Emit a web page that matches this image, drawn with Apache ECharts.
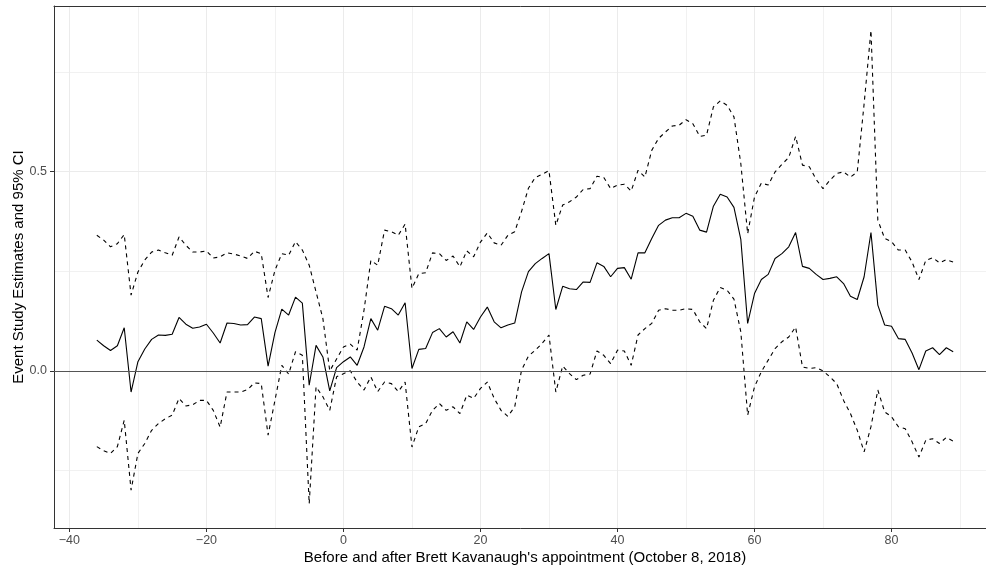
<!DOCTYPE html>
<html>
<head>
<meta charset="utf-8">
<script src="https://cdn.jsdelivr.net/npm/echarts@6/dist/echarts.min.js"></script>
<style>
html, body { margin: 0; padding: 0; background: #fff; }
#chart { width: 986px; height: 569px; }
</style>
</head>
<body>
<div id="chart"></div>
<script>
// days relative to the appointment
var days = [
	-36,-35,-34,-33,-32,-31,-30,-29,-28,-27,
	-26,-25,-24,-23,-22,-21,-20,-19,-18,-17,
	-16,-15,-14,-13,-12,-11,-10,-9,-8,-7,
	-6,-5,-4,-3,-2,-1,0,1,2,3,
	4,5,6,7,8,9,10,11,12,13,
	14,15,16,17,18,19,20,21,22,23,
	24,25,26,27,28,29,30,31,32,33,
	34,35,36,37,38,39,40,41,42,43,
	44,45,46,47,48,49,50,51,52,53,
	54,55,56,57,58,59,60,61,62,63,
	64,65,66,67,68,69,70,71,72,73,
	74,75,76,77,78,79,80,81,82,83,
	84,85,86,87,88,89
];
// point estimates
var estimate = [
	0.077,0.063,0.051,0.063,0.108,-0.053,0.023,0.055,0.079,0.090,
	0.089,0.092,0.134,0.117,0.107,0.110,0.117,0.095,0.070,0.120,
	0.119,0.115,0.116,0.135,0.131,0.012,0.096,0.155,0.140,0.185,
	0.170,-0.036,0.064,0.035,-0.050,0.008,0.023,0.035,0.014,0.060,
	0.131,0.102,0.162,0.156,0.140,0.171,0.006,0.054,0.056,0.096,
	0.106,0.085,0.098,0.070,0.123,0.104,0.135,0.160,0.123,0.108,
	0.115,0.120,0.198,0.249,0.269,0.282,0.294,0.154,0.212,0.206,
	0.204,0.223,0.222,0.271,0.262,0.236,0.257,0.259,0.230,0.296,
	0.296,0.332,0.365,0.378,0.384,0.384,0.395,0.388,0.353,0.348,
	0.413,0.443,0.436,0.410,0.330,0.119,0.194,0.229,0.242,0.282,
	0.294,0.311,0.347,0.262,0.257,0.242,0.229,0.232,0.236,0.219,
	0.187,0.179,0.236,0.347,0.165,0.115,0.112,0.081,0.079,0.045,
	0.003,0.050,0.058,0.041,0.058,0.048
];
// 95% CI upper bound
var upperCI = [
	0.340,0.328,0.311,0.319,0.342,0.190,0.248,0.278,0.298,0.303,
	0.296,0.290,0.336,0.315,0.298,0.298,0.301,0.283,0.286,0.296,
	0.293,0.288,0.282,0.300,0.294,0.184,0.252,0.294,0.290,0.324,
	0.303,0.265,0.198,0.131,0.000,0.030,0.060,0.067,0.052,0.152,
	0.277,0.265,0.353,0.349,0.340,0.368,0.207,0.244,0.246,0.296,
	0.294,0.277,0.288,0.261,0.301,0.286,0.323,0.346,0.321,0.315,
	0.340,0.349,0.400,0.458,0.485,0.493,0.502,0.365,0.416,0.424,
	0.436,0.455,0.457,0.488,0.485,0.457,0.466,0.468,0.451,0.503,
	0.486,0.553,0.583,0.599,0.614,0.616,0.630,0.620,0.588,0.591,
	0.662,0.677,0.666,0.637,0.520,0.344,0.436,0.471,0.466,0.499,
	0.518,0.535,0.588,0.516,0.512,0.480,0.457,0.478,0.495,0.499,
	0.486,0.499,0.670,0.854,0.378,0.332,0.324,0.303,0.303,0.273,
	0.229,0.277,0.284,0.271,0.279,0.273
];
// 95% CI lower bound
var lowerCI = [
	-0.190,-0.200,-0.207,-0.190,-0.124,-0.299,-0.207,-0.182,-0.149,-0.132,
	-0.120,-0.111,-0.069,-0.088,-0.085,-0.074,-0.074,-0.099,-0.141,-0.053,
	-0.053,-0.053,-0.047,-0.030,-0.032,-0.161,-0.074,0.014,-0.008,0.048,
	0.039,-0.333,-0.040,-0.065,-0.099,-0.015,-0.007,0.000,-0.028,-0.048,
	-0.015,-0.052,-0.028,-0.032,-0.052,-0.028,-0.191,-0.140,-0.132,-0.099,
	-0.082,-0.099,-0.090,-0.107,-0.061,-0.069,-0.044,-0.028,-0.069,-0.099,
	-0.114,-0.090,0.002,0.037,0.052,0.069,0.090,-0.053,0.012,-0.007,
	-0.022,-0.011,-0.008,0.050,0.039,0.018,0.052,0.050,0.014,0.090,
	0.106,0.119,0.152,0.156,0.152,0.152,0.156,0.154,0.123,0.106,
	0.177,0.209,0.202,0.180,0.098,-0.111,-0.040,-0.002,0.027,0.056,
	0.073,0.085,0.110,0.010,0.006,0.008,0.000,-0.015,-0.032,-0.074,
	-0.107,-0.149,-0.203,-0.140,-0.048,-0.103,-0.115,-0.140,-0.145,-0.178,
	-0.216,-0.174,-0.170,-0.182,-0.167,-0.176
];
// tick labels / grid breaks
var xMajorTicks = [-40, -20, 0, 20, 40, 60, 80];
var xMinorGrid = [-30, -10, 10, 30, 50, 70, 90];
var yMajorTicks = [0, 0.5];
var yMinorGrid = [-0.25, 0.25, 0.75];

var FONT = 'Liberation Sans, Arial, sans-serif';
var X_MIN = -42.25, X_MAX = 95.25;
var Y_MIN = -0.394, Y_MAX = 0.915;
var BORDER = { show: true, onZero: false, lineStyle: { color: '#333', width: 1 } };

function pairs(vals) {
	var out = [];
	days.forEach(function(d, i) {
		out.push([d, vals[i]]);
	});
	return out;
}

function minusSign(v) {
	return String(v).replace('-', '\u2212');
}

var option = {
	animation: false,
	backgroundColor: '#fff',
	grid: {
		left: 54,
		top: 6,
		right: -10,
		bottom: 41,
		outerBoundsMode: 'none',
		containLabel: false,
		show: false
	},
	xAxis: [{
		type: 'value',
		min: X_MIN,
		max: X_MAX,
		position: 'bottom',
		axisLine: BORDER,
		axisTick: {
			show: true,
			customValues: xMajorTicks,
			length: 4,
			lineStyle: { color: '#333', width: 1 }
		},
		axisLabel: {
			customValues: xMajorTicks,
			color: '#4d4d4d',
			fontSize: 12.5,
			fontFamily: FONT,
			margin: 6,
			formatter: minusSign
		},
		splitLine: { show: true, lineStyle: { color: '#ebebeb', width: 1 } },
		name: "Before and after Brett Kavanaugh's appointment (October 8, 2018)",
		nameLocation: 'middle',
		nameGap: 22,
		nameMoveOverlap: false,
		nameTextStyle: { color: '#000', fontSize: 15, fontFamily: FONT }
	}, {
		// minor grid + top border
		type: 'value',
		min: X_MIN,
		max: X_MAX,
		position: 'top',
		axisLine: BORDER,
		axisTick: { show: false, customValues: xMinorGrid },
		axisLabel: { show: false, customValues: xMinorGrid },
		splitLine: { show: true, lineStyle: { color: '#ebebeb', width: 0.7 } }
	}],
	yAxis: [{
		type: 'value',
		min: Y_MIN,
		max: Y_MAX,
		position: 'left',
		axisLine: BORDER,
		axisTick: {
			show: true,
			customValues: yMajorTicks,
			length: 4,
			lineStyle: { color: '#333', width: 1 }
		},
		axisLabel: {
			customValues: yMajorTicks,
			color: '#4d4d4d',
			fontSize: 12.5,
			fontFamily: FONT,
			margin: 7,
			formatter: function(v) { return v.toFixed(1); }
		},
		splitLine: { show: true, lineStyle: { color: '#ebebeb', width: 1 } },
		name: 'Event Study Estimates and 95% CI',
		nameLocation: 'middle',
		nameGap: 28,
		nameRotate: 90,
		nameMoveOverlap: false,
		nameTextStyle: { color: '#000', fontSize: 15, fontFamily: FONT }
	}, {
		type: 'value',
		min: Y_MIN,
		max: Y_MAX,
		position: 'right',
		axisLine: BORDER,
		axisTick: { show: false, customValues: yMinorGrid },
		axisLabel: { show: false, customValues: yMinorGrid },
		splitLine: { show: true, lineStyle: { color: '#ebebeb', width: 0.7 } }
	}],
	series: [{
		name: 'estimate',
		type: 'line',
		data: pairs(estimate),
		showSymbol: false,
		lineStyle: { color: '#000', width: 1.1 },
		z: 3,
		markLine: {
			silent: true,
			symbol: 'none',
			label: { show: false },
			lineStyle: { color: '#555', width: 1.2, type: 'solid' },
			data: [{ yAxis: 0 }]
		}
	}, {
		name: 'upper',
		type: 'line',
		data: pairs(upperCI),
		showSymbol: false,
		lineStyle: { color: '#000', width: 1.1, type: [4, 4] },
		z: 3
	}, {
		name: 'lower',
		type: 'line',
		data: pairs(lowerCI),
		showSymbol: false,
		lineStyle: { color: '#000', width: 1.1, type: [4, 4] },
		z: 3
	}]
};

var chart = echarts.init(document.getElementById('chart'));
chart.setOption(option);
</script>
</body>
</html>
